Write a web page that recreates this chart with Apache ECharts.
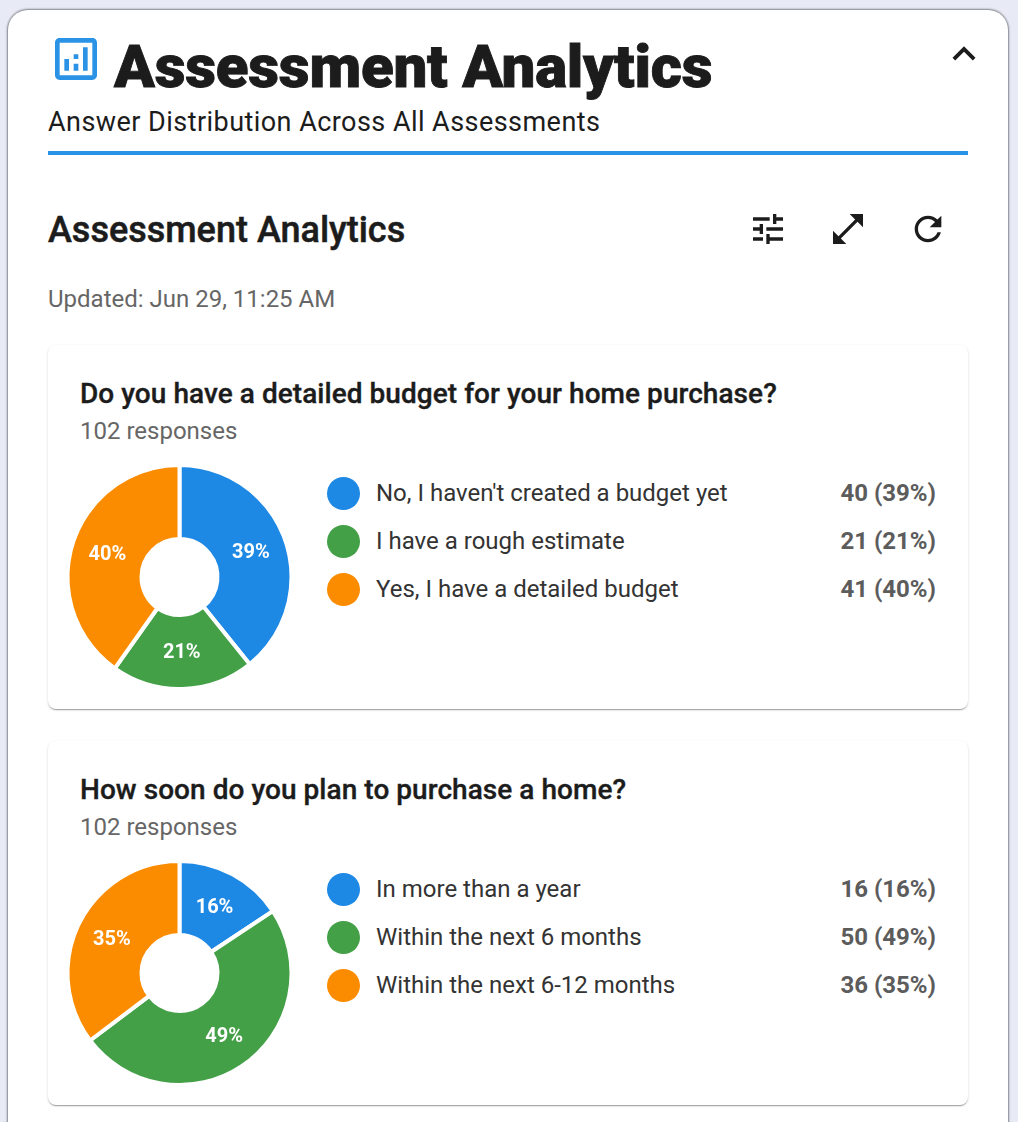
<!DOCTYPE html>
<html>
<head>
<meta charset="utf-8">
<title>Assessment Analytics</title>
<script src="https://cdn.jsdelivr.net/npm/echarts@6/dist/echarts.min.js"></script>
<style>
  html, body { margin: 0; height: 1122px; overflow: hidden; background: #e8eaf6; font-family: Roboto, sans-serif; color: #1c1c1c; }
  .panel { position: absolute; left: 8px; top: 10px; width: 1000px; height: 1200px; background: #fff; border-radius: 20px; box-shadow: 0 0 2px 1px rgba(0,0,0,.45); }
  .abs { position: absolute; white-space: nowrap; }
  svg.abs { fill: #1c1c1c; }
  .head { left: 106px; top: 22px; font-size: 60px; line-height: 70px; font-weight: 900; letter-spacing: -0.2px; -webkit-text-stroke: 0.9px #1c1c1c; }
  .sub { left: 40px; top: 94px; font-size: 27px; line-height: 36px; letter-spacing: 0.45px; }
  .rule { position: absolute; left: 40px; top: 141px; width: 920px; height: 4px; background: #2a93e6; }
  .h2 { left: 40px; top: 198px; font-size: 36px; line-height: 44px; font-weight: 500; -webkit-text-stroke: 0.5px #1c1c1c; }
  .updated { left: 40px; top: 274px; font-size: 24px; line-height: 30px; color: #666; }
  .card { position: absolute; left: 40px; width: 920px; height: 364px; background: #fff; border-radius: 8px; box-shadow: 0 2px 1px -1px rgba(0,0,0,.2), 0 1px 1px rgba(0,0,0,.14), 0 1px 3px rgba(0,0,0,.12); }
  .q { left: 32px; top: 31px; font-size: 28px; line-height: 36px; font-weight: 500; letter-spacing: 0.05px; -webkit-text-stroke: 0.35px #1c1c1c; }
  .n { left: 32px; top: 70px; font-size: 24px; line-height: 32px; color: #666; }
  .pie { position: absolute; left: 12px; top: 112px; width: 240px; height: 240px; }
  .dot { position: absolute; left: 279px; width: 33px; height: 33px; border-radius: 50%; }
  .lab { left: 328px; font-size: 24px; line-height: 32px; color: #333; letter-spacing: 0; }
  .val { right: 32px; font-size: 24px; line-height: 32px; font-weight: 700; color: #5c5c5c; }
</style>
</head>
<body>
<div class="panel" id="panel">
  <svg class="abs" style="left:40px;top:21px;fill:#2a93e6" width="56" height="56" viewBox="0 0 24 24"><path d="M19 3H5c-1.1 0-2 .9-2 2v14c0 1.1.9 2 2 2h14c1.1 0 2-.9 2-2V5c0-1.1-.9-2-2-2zm0 16H5V5h14v14zM7 12h2v5H7zM15 7h2v10h-2zM11 14h2v3h-2zM11 10h2v2h-2z"/></svg>
  <div class="abs head">Assessment Analytics</div>
  <svg class="abs" style="left:933px;top:21px" width="46" height="46" viewBox="0 0 24 24"><path d="M12 8l-6 6 1.41 1.41L12 10.83l4.59 4.58L18 14z"/></svg>
  <div class="abs sub">Answer Distribution Across All Assessments</div>
  <div class="rule"></div>
  <div class="abs h2">Assessment Analytics</div>
  <svg class="abs" style="left:740px;top:199px" width="40" height="40" viewBox="0 0 24 24"><path d="M3 17v2h6v-2H3zM3 5v2h10V5H3zm10 16v-2h8v-2h-8v-2h-2v6h2zM7 9v2H3v2h4v2h2V9H7zm14 4v-2H11v2h10zm-6-4h2V7h4V5h-4V3h-2v6z"/></svg>
  <svg class="abs" style="left:820px;top:199px" width="40" height="40" viewBox="0 0 24 24"><path d="M21 11V3h-8l3.29 3.29-10 10L3 13v8h8l-3.29-3.29 10-10z"/></svg>
  <svg class="abs" style="left:900px;top:199px" width="40" height="40" viewBox="0 0 24 24"><path d="M17.65 6.35C16.2 4.9 14.21 4 12 4c-4.42 0-7.99 3.58-7.99 8s3.57 8 7.99 8c3.73 0 6.84-2.55 7.73-6h-2.08c-.82 2.33-3.04 4-5.65 4-3.31 0-6-2.69-6-6s2.69-6 6-6c1.66 0 3.14.69 4.22 1.78L13 11h7V4l-2.35 2.35z"/></svg>
  <div class="abs updated">Updated: Jun 29, 11:25 AM</div>
</div>
<script>
const sliceColors = ["#1e88e5", "#43a047", "#fb8c00"];

const budgetQuestion = "Do you have a detailed budget for your home purchase?";
const budgetAnswers = ["No, I haven't created a budget yet", "I have a rough estimate", "Yes, I have a detailed budget"];
const budgetCounts = [40, 21, 41];

const timingQuestion = "How soon do you plan to purchase a home?";
const timingAnswers = ["In more than a year", "Within the next 6 months", "Within the next 6-12 months"];
const timingCounts = [16, 50, 36];

function addCard(top, question, answers, counts) {
  const total = counts.reduce((a, b) => a + b, 0);
  const pct = (v) => Math.round((v / total) * 100);
  const card = document.createElement("div");
  card.className = "card";
  card.style.top = top + "px";
  let html = `<div class="abs q">${question}</div><div class="abs n">${total} responses</div><div class="pie"></div>`;
  answers.forEach((name, i) => {
    const y = 132 + i * 48;
    html += `<div class="dot" style="top:${y}px;background:${sliceColors[i]}"></div>`;
    html += `<div class="abs lab" style="top:${y}px">${name}</div>`;
    html += `<div class="abs val" style="top:${y}px">${counts[i]} (${pct(counts[i])}%)</div>`;
  });
  card.innerHTML = html;
  document.getElementById("panel").appendChild(card);

  const chart = echarts.init(card.querySelector(".pie"), null, { renderer: "canvas" });
  chart.setOption({
    animation: false,
    color: sliceColors,
    series: [{
      type: "pie",
      center: [119.5, 120],
      radius: [38, 112],
      startAngle: 90,
      clockwise: true,
      itemStyle: { borderColor: "#fff", borderWidth: 4 },
      label: {
        position: "inside",
        formatter: (p) => pct(p.value) + "%",
        color: "#fff",
        fontFamily: "Roboto",
        fontSize: 20,
        fontWeight: 700,
      },
      labelLine: { show: false },
      // labels sit a little closer to the hole than ECharts' mid-radius
      labelLayout: (p) => ({
        dx: -(p.rect.x + p.rect.width / 2 - 119.5) * 0.04,
        dy: 1 - (p.rect.y + p.rect.height / 2 - 120) * 0.04,
      }),
      data: answers.map((name, i) => ({ name, value: counts[i] })),
    }],
  });
}

addCard(335, budgetQuestion, budgetAnswers, budgetCounts);
addCard(731, timingQuestion, timingAnswers, timingCounts);
</script>
</body>
</html>
